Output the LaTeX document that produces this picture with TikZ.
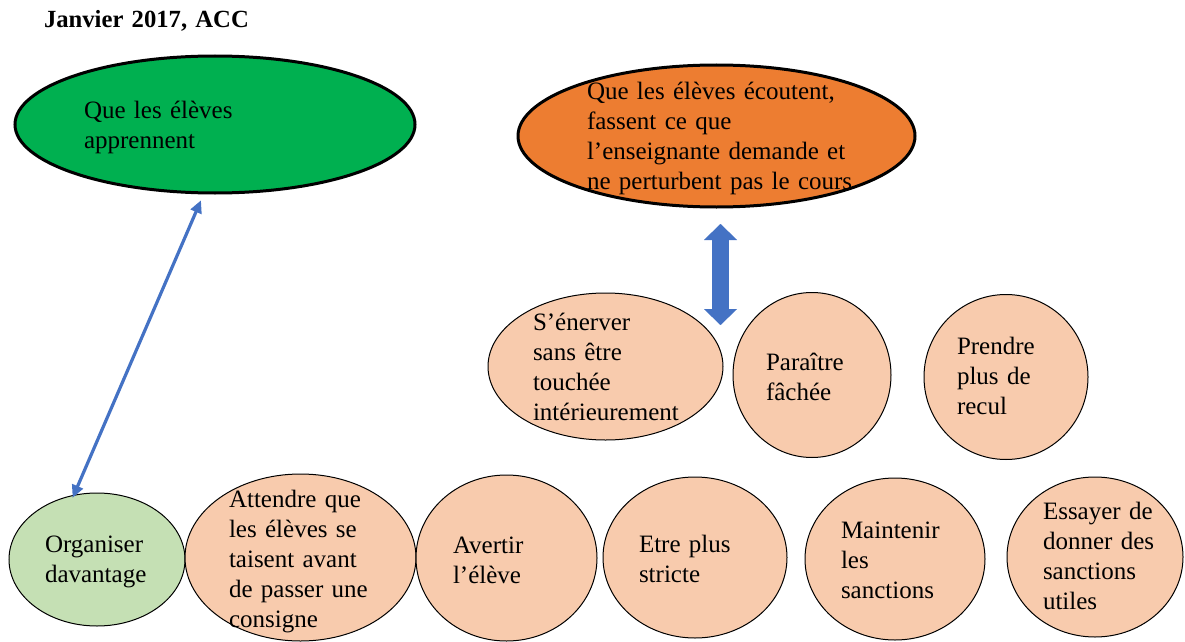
\documentclass[tikz,border=0pt]{standalone}
\usepackage{fontspec}
\setmainfont{Liberation Serif}
\frenchspacing
\usetikzlibrary{shapes.geometric,arrows.meta}
\definecolor{gfill}{HTML}{00B050}
\definecolor{ofill}{HTML}{ED7D31}
\definecolor{pfill}{HTML}{F8CBAD}
\definecolor{lgfill}{HTML}{C5E0B4}
\definecolor{arrblue}{HTML}{4472C4}
\begin{document}
\begin{tikzpicture}[x=0.75pt,y=-0.75pt,
  ell/.style 2 args={ellipse, draw=black, line width=0.75pt, inner sep=0pt, outer sep=0pt,
    minimum width={#1*1.5pt}, minimum height={#2*1.5pt}},
  bigell/.style={line width=2.25pt},
  txt/.style={anchor=base west, inner sep=0pt, outer sep=0pt, text width=330pt, align=left,
    font=\fontsize{18.75}{22.5}\selectfont},
  thinarr/.style={draw=arrblue, line width=2.4pt,
    {Triangle[length=9.5pt,width=8.5pt]}-{Triangle[length=9.5pt,width=8.5pt]}},
  blockarr/.style={draw=arrblue, line width=12.75pt,
    {Triangle[length=12pt,width=24.75pt,line width=0.01pt]}-{Triangle[length=12pt,width=24.75pt,line width=0.01pt]}}
]
\useasboundingbox (0,0) rectangle (1185,642);

% title
\node[txt, font=\fontsize{18.5}{22.5}\selectfont\bfseries] (title) at (44,28) {Janvier 2017, ACC};

% top ellipses
\node[ell={200}{68.5}, bigell, fill=gfill] (green) at (215,124.5) {};
\node[ell={198.5}{71}, bigell, fill=ofill] (orange) at (716.5,136) {};

% middle row
\node[ell={117.5}{73.5}, fill=pfill] (enerver) at (605.5,366.5) {};
\node[ell={79}{82.5}, fill=pfill] (paraitre) at (812,375) {};
\node[ell={82}{82.5}, fill=pfill] (prendre) at (1006,377) {};

% bottom row
\node[ell={88}{66.5}, fill=lgfill] (org) at (97,559.5) {};
\node[ell={115.5}{83.5}, fill=pfill] (attendre) at (300.5,557.5) {};
\node[ell={90.5}{83}, fill=pfill] (avertir) at (506.5,558) {};
\node[ell={92}{80.5}, fill=pfill] (etre) at (695,557.5) {};
\node[ell={90}{81}, fill=pfill] (maintenir) at (895,559) {};
\node[ell={88}{80}, fill=pfill] (essayer) at (1095,557) {};

% texts
\node[txt] (tgreen) at (84,118) {Que les élèves\\apprennent};
\node[txt] (torange) at (587,99) {Que les élèves écoutent,\\fassent ce que\\l’enseignante demande et\\ne perturbent pas le cours};
\node[txt] (tenerver) at (533,330) {S’énerver\\sans être\\touchée\\intérieurement};
\node[txt] (tparaitre) at (766,370) {Paraître\\fâchée};
\node[txt] (tprendre) at (957,354) {Prendre\\plus de\\recul};
\node[txt] (torg) at (45,552) {Organiser\\davantage};
\node[txt] (tattendre) at (229,507) {Attendre que\\les élèves se\\taisent avant\\de passer une\\consigne};
\node[txt] (tavertir) at (453,553) {Avertir\\l’élève};
\node[txt] (tetre) at (639,552) {Etre plus\\stricte};
\node[txt] (tmaintenir) at (841,538) {Maintenir\\les\\sanctions};
\node[txt] (tessayer) at (1043,519) {Essayer de\\donner des\\sanctions\\utiles};

% connectors
\draw[thinarr, shorten <=6pt, shorten >=-2pt] (green.261) -- (org.110);
\coordinate (ba1) at (720.5,224);
\coordinate (ba2) at (720.5,325);
\draw[blockarr] (ba1) -- (ba2);
\end{tikzpicture}
\end{document}
